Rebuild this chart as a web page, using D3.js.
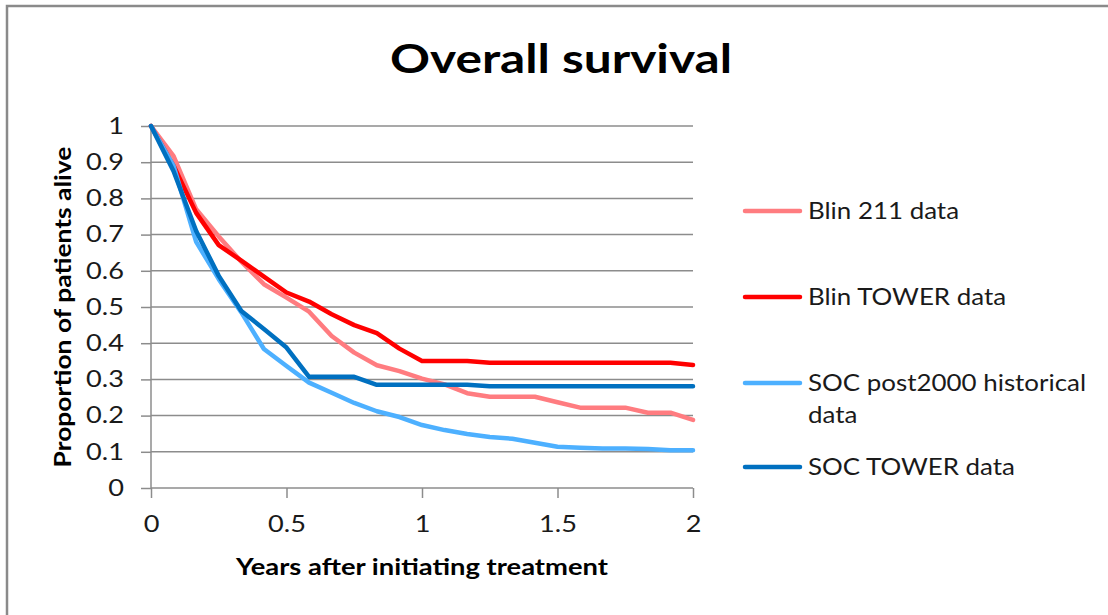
<!DOCTYPE html>
<html>
<head>
<meta charset="utf-8">
<script src="https://cdn.jsdelivr.net/npm/d3@7"></script>
<style>
  body { margin: 0; background: #fff; }
  svg { display: block; font-family: Lato, "Open Sans", sans-serif; }
</style>
</head>
<body>
<svg id="chart" width="1108" height="615"></svg>
<script>
// months after start of treatment (x axis is shown in years)
let months = [0, 1, 2, 3, 4, 5, 6, 7, 8, 9, 10, 11, 12, 13, 14, 15, 16, 17, 18, 19, 20, 21, 22, 23, 24];
let xTicks = [0, 6, 12, 18, 24];
let xTickLabels = ["0", "0.5", "1", "1.5", "2"];
let yTicks = [0, 0.1, 0.2, 0.3, 0.4, 0.5, 0.6, 0.7, 0.8, 0.9, 1];

let blin211 = [1, 0.917, 0.77, 0.695, 0.625, 0.563, 0.526, 0.487, 0.42, 0.374, 0.339, 0.323, 0.302, 0.286, 0.262, 0.252, 0.252, 0.252, 0.237, 0.222, 0.222, 0.222, 0.208, 0.208, 0.188];
let blinTower = [1, 0.89, 0.76, 0.671, 0.628, 0.584, 0.54, 0.515, 0.48, 0.45, 0.428, 0.385, 0.351, 0.351, 0.351, 0.346, 0.346, 0.346, 0.346, 0.346, 0.346, 0.346, 0.346, 0.346, 0.34];
let socPost2000 = [1, 0.89, 0.68, 0.577, 0.485, 0.384, 0.337, 0.291, 0.263, 0.235, 0.212, 0.196, 0.174, 0.16, 0.149, 0.141, 0.136, 0.125, 0.114, 0.111, 0.109, 0.109, 0.108, 0.104, 0.104];
let socTower = [1, 0.875, 0.71, 0.586, 0.489, 0.439, 0.388, 0.307, 0.307, 0.307, 0.285, 0.285, 0.285, 0.285, 0.285, 0.281, 0.281, 0.281, 0.281, 0.281, 0.281, 0.281, 0.281, 0.281, 0.281];

let seriesNames = ["Blin 211 data", "Blin TOWER data", "SOC post2000 historical data", "SOC TOWER data"];
let seriesValues = [blin211, blinTower, socPost2000, socTower];
let colors = ["#ff7c80", "#ff0000", "#4db0ff", "#0070c0"];

let svg = d3.select("#chart");

// the source picture is a little wider than tall, so text gets stretched sideways
let stretch = (sel, sx) => {
    sel.each(function () {
        let t = d3.select(this);
        let tx = +t.attr("x") || 0;
        let ty = +t.attr("y") || 0;
        let prev = t.attr("transform") || "";
        t.attr("transform", `${prev} translate(${tx},${ty}) scale(${sx},1)`)
         .attr("x", 0)
         .attr("y", 0);
    });
};

// outer frame (top + left edges visible)
svg.append("path")
   .attr("d", "M7,615 V6 H1108")
   .attr("fill", "none")
   .attr("stroke", "#8a8a8a")
   .attr("stroke-width", 2.5);

let x = d3.scaleLinear().domain([0, 24]).range([151, 693]);
let y = d3.scaleLinear().domain([0, 1]).range([488, 126]);

//gridlines
svg.append("g")
   .selectAll("line")
   .data(yTicks.filter(d => d > 0))
   .enter()
   .append("line")
   .attr("x1", x(0))
   .attr("x2", x(24))
   .attr("y1", d => y(d))
   .attr("y2", d => y(d))
   .attr("stroke", "#8c8c8c")
   .attr("stroke-width", 1.5);

//axes
let yAxis = d3.axisLeft(y).tickValues(yTicks).tickSize(10).tickPadding(17).tickFormat(d => d3.format("")(d));
let xAxis = d3.axisBottom(x).tickValues(xTicks).tickSize(10).tickPadding(18).tickFormat((d, i) => xTickLabels[i]);

let gy = svg.append("g").attr("transform", `translate(${x(0)},0)`).call(yAxis);
let gx = svg.append("g").attr("transform", `translate(0,${y(0)})`).call(xAxis);

[gy, gx].forEach(g => {
    g.select(".domain").attr("stroke", "#8c8c8c").attr("stroke-width", 1.5);
    g.selectAll(".tick line").attr("stroke", "#8c8c8c").attr("stroke-width", 1.5);
    g.selectAll(".tick text")
     .attr("fill", "#1a1a1a")
     .style("font-family", "Lato, sans-serif")
     .style("font-size", "23px");
    stretch(g.selectAll(".tick text"), 1.18);
});
gy.select(".domain").attr("d", `M0,${y(1)}V${y(0)}`);
gx.select(".domain").attr("d", `M${x(0)},0H${x(24)}`);
gx.selectAll(".tick text").attr("dy", "0.71em");

//lines
let line = d3.line()
    .x((d, i) => x(months[i]))
    .y(d => y(d));

svg.append("g")
   .selectAll("path")
   .data(seriesValues)
   .enter()
   .append("path")
   .attr("d", d => line(d))
   .attr("fill", "none")
   .attr("stroke", (d, i) => colors[i])
   .attr("stroke-width", 4.5)
   .attr("stroke-linejoin", "round")
   .attr("stroke-linecap", "round");

//titles
let title = svg.append("text")
   .attr("x", 561)
   .attr("y", 73)
   .attr("text-anchor", "middle")
   .style("font-weight", "bold")
   .style("font-size", "40px")
   .attr("fill", "#000")
   .text("Overall survival");
stretch(title, 1.24);

let xTitle = svg.append("text")
   .attr("x", 422)
   .attr("y", 575)
   .attr("text-anchor", "middle")
   .style("font-weight", "bold")
   .style("font-size", "23px")
   .attr("fill", "#000")
   .text("Years after initiating treatment");
stretch(xTitle, 1.19);

svg.append("text")
   .attr("transform", "translate(71,307) rotate(-90) scale(1.15,1)")
   .attr("text-anchor", "middle")
   .style("font-weight", "bold")
   .style("font-size", "23px")
   .attr("fill", "#000")
   .text("Proportion of patients alive");

//legend
let legendY = [211, 297, 383, 467];
let legend = svg.append("g");
let items = legend.selectAll("g")
   .data(seriesNames)
   .enter()
   .append("g")
   .attr("transform", (d, i) => `translate(0,${legendY[i]})`);

items.append("line")
     .attr("x1", 745)
     .attr("x2", 800)
     .attr("stroke", (d, i) => colors[i])
     .attr("stroke-width", 4.5)
     .attr("stroke-linecap", "round");

items.append("text")
     .attr("transform", "translate(808,0) scale(1.08,1)")
     .style("font-size", "24px")
     .attr("fill", "#1a1a1a")
     .each(function (d) {
        let t = d3.select(this);
        let parts = d === "SOC post2000 historical data" ? ["SOC post2000 historical", "data"] : [d];
        parts.forEach((p, k) => {
            t.append("tspan").attr("x", 0).attr("dy", k === 0 ? "0.35em" : "32px").text(p);
        });
     });
</script>
</body>
</html>
